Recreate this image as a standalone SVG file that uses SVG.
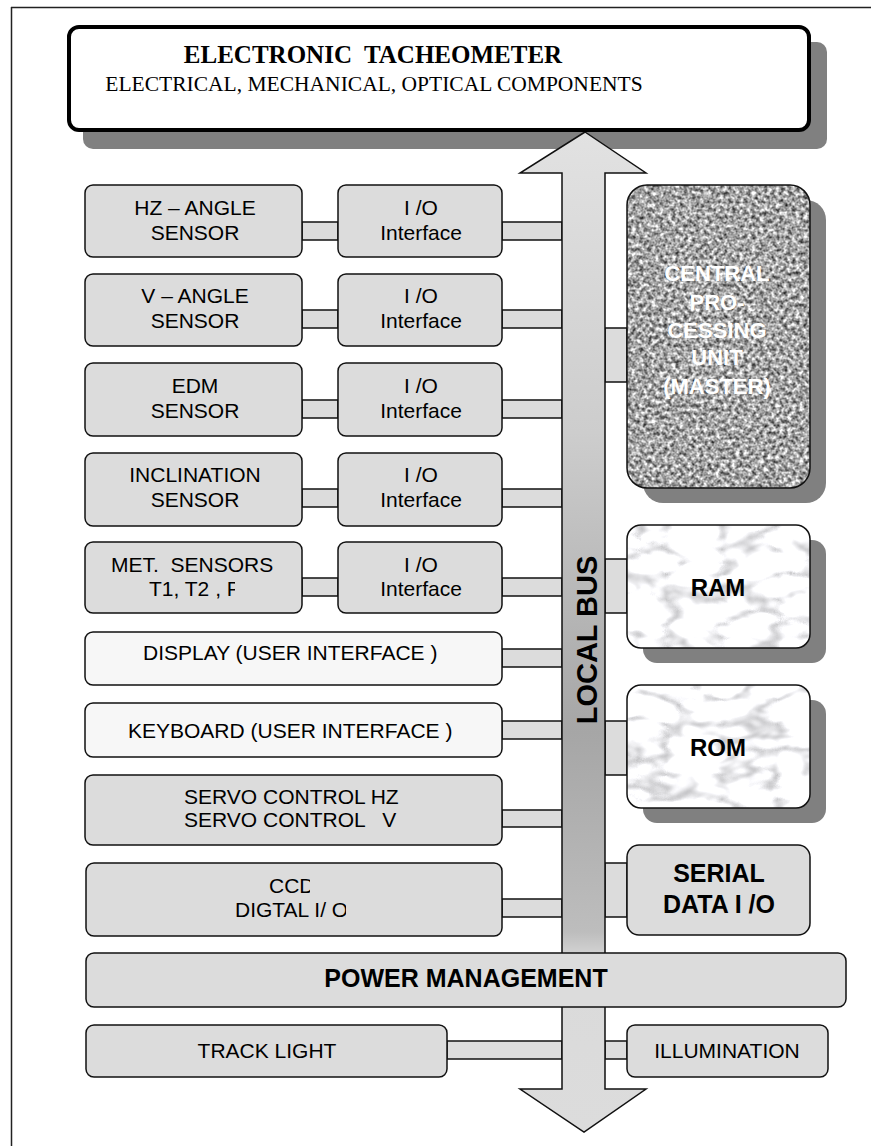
<svg xmlns="http://www.w3.org/2000/svg" width="871" height="1146" viewBox="0 0 871 1146">
<style>
.frame{stroke:#222;stroke-width:1.5;fill:none}
.box{fill:#dcdcdc;stroke:#111;stroke-width:1.5}
.wbox{fill:#f7f7f7;stroke:#111;stroke-width:1.5}
.shadow{fill:#808080}
.conn{fill:#dcdcdc;stroke:#111;stroke-width:1.5}
.t{font-family:"Liberation Sans",Arial,sans-serif;font-size:21px;fill:#000;text-anchor:middle}
.ts{font-family:"Liberation Sans",Arial,sans-serif;font-size:21px;fill:#000;text-anchor:start;white-space:pre}
.tb{font-family:"Liberation Sans",Arial,sans-serif;font-weight:bold;fill:#000;text-anchor:middle;white-space:pre}
.cpu{font-family:"Liberation Sans",Arial,sans-serif;font-weight:bold;font-size:22px;fill:#fff;text-anchor:middle}
.serif{font-family:"Liberation Serif","Times New Roman",serif;fill:#000;text-anchor:middle;white-space:pre}
</style>
<defs>
<linearGradient id="busGrad" gradientUnits="userSpaceOnUse" x1="0" y1="132" x2="0" y2="1132">
<stop offset="0" stop-color="#e2e2e2"/>
<stop offset="0.3" stop-color="#cdcdcd"/>
<stop offset="0.6" stop-color="#a6a6a6"/>
<stop offset="0.8" stop-color="#bdbdbd"/>
<stop offset="0.83" stop-color="#dadada"/>
<stop offset="1" stop-color="#dcdcdc"/>
</linearGradient>
<filter id="granite" x="0" y="0" width="1" height="1" color-interpolation-filters="sRGB">
<feTurbulence type="fractalNoise" baseFrequency="0.25" numOctaves="2" seed="7" result="n"/>
<feColorMatrix in="n" type="matrix" values="1.35 0 0 0 -0.03  1.35 0 0 0 -0.03  1.35 0 0 0 -0.03  0 0 0 0 1" result="g"/>
<feComposite in="g" in2="SourceGraphic" operator="in"/>
</filter>
<filter id="marble" x="0" y="0" width="1" height="1" color-interpolation-filters="sRGB">
<feTurbulence type="turbulence" baseFrequency="0.018 0.04" numOctaves="3" seed="5" result="n"/>
<feGaussianBlur in="n" stdDeviation="1.2" result="b"/>
<feColorMatrix in="b" type="matrix" values="1.0 0 0 0 0.74  1.0 0 0 0 0.74  1.0 0 0 0 0.75  0 0 0 0 1" result="g"/>
<feComposite in="g" in2="SourceGraphic" operator="in"/>
</filter>
<clipPath id="clipMet"><rect x="100" y="570" width="135" height="40"/></clipPath>
<clipPath id="clipCcd"><rect x="250" y="870" width="60" height="30"/></clipPath>
<clipPath id="clipDig"><rect x="220" y="895" width="126" height="30"/></clipPath>
</defs>

<g id="frame">
<line class="frame" x1="11" y1="7.5" x2="871" y2="7.5"/>
<line class="frame" x1="11.5" y1="7" x2="11.5" y2="1146"/>
</g>

<g id="shadows">
<rect class="shadow" x="83" y="42" width="744" height="107" rx="10"/>
<rect class="shadow" x="643" y="200" width="183" height="303" rx="20"/>
<rect class="shadow" x="643" y="540" width="183" height="123" rx="14"/>
<rect class="shadow" x="643" y="700" width="183" height="123" rx="14"/>
</g>

<g id="connectors">
<rect class="conn" x="302" y="222" width="36" height="18"/>
<rect class="conn" x="502" y="222" width="60" height="18"/>
<rect class="conn" x="302" y="310" width="36" height="18"/>
<rect class="conn" x="502" y="310" width="60" height="18"/>
<rect class="conn" x="302" y="400" width="36" height="18"/>
<rect class="conn" x="502" y="400" width="60" height="18"/>
<rect class="conn" x="302" y="489" width="36" height="18"/>
<rect class="conn" x="502" y="489" width="60" height="18"/>
<rect class="conn" x="302" y="578" width="36" height="18"/>
<rect class="conn" x="502" y="578" width="60" height="18"/>
<rect class="conn" x="502" y="649" width="60" height="18"/>
<rect class="conn" x="502" y="721" width="60" height="18"/>
<rect class="conn" x="502" y="810" width="60" height="17"/>
<rect class="conn" x="502" y="899" width="60" height="18"/>
<rect class="conn" x="447" y="1041" width="115" height="18"/>
<rect class="conn" x="605" y="1041" width="22" height="18"/>
<rect class="conn" x="605" y="328" width="22" height="54"/>
<rect class="conn" x="605" y="559" width="22" height="54"/>
<rect class="conn" x="605" y="721" width="22" height="54"/>
<rect class="conn" x="605" y="863" width="22" height="54"/>
</g>

<g id="local-bus">
<polygon points="585,132 646,173 605,173 605,1089 646,1089 584,1132 520,1089 562,1089 562,173 520,173" fill="url(#busGrad)" stroke="#111" stroke-width="1.5" stroke-linejoin="miter"/>
<text class="tb" font-size="29" transform="translate(597,640) rotate(-90)">LOCAL BUS</text>
</g>

<g id="tacheometer">
<rect x="69" y="27" width="740" height="103" rx="10" fill="#fff" stroke="#000" stroke-width="4"/>
<text class="serif" x="373" y="63" font-size="25" font-weight="bold">ELECTRONIC  TACHEOMETER</text>
<text class="serif" x="374" y="91" font-size="21.5">ELECTRICAL, MECHANICAL, OPTICAL COMPONENTS</text>
</g>

<g id="hz-sensor">
<rect class="box" x="85" y="185" width="217" height="72" rx="8"/>
<text class="t" x="195" y="215">HZ – ANGLE</text>
<text class="t" x="195" y="240">SENSOR</text>
</g>
<g id="hz-io">
<rect class="box" x="338" y="185" width="164" height="72" rx="8"/>
<text class="t" x="421" y="215">I /O</text>
<text class="t" x="421" y="240">Interface</text>
</g>

<g id="v-sensor">
<rect class="box" x="85" y="274" width="217" height="72" rx="8"/>
<text class="t" x="195" y="303">V – ANGLE</text>
<text class="t" x="195" y="328">SENSOR</text>
</g>
<g id="v-io">
<rect class="box" x="338" y="274" width="164" height="72" rx="8"/>
<text class="t" x="421" y="303">I /O</text>
<text class="t" x="421" y="328">Interface</text>
</g>

<g id="edm-sensor">
<rect class="box" x="85" y="363" width="217" height="73" rx="8"/>
<text class="t" x="195" y="393">EDM</text>
<text class="t" x="195" y="418">SENSOR</text>
</g>
<g id="edm-io">
<rect class="box" x="338" y="363" width="164" height="73" rx="8"/>
<text class="t" x="421" y="393">I /O</text>
<text class="t" x="421" y="418">Interface</text>
</g>

<g id="inclination-sensor">
<rect class="box" x="85" y="453" width="217" height="73" rx="8"/>
<text class="t" x="195" y="482">INCLINATION</text>
<text class="t" x="195" y="507">SENSOR</text>
</g>
<g id="inclination-io">
<rect class="box" x="338" y="453" width="164" height="73" rx="8"/>
<text class="t" x="421" y="482">I /O</text>
<text class="t" x="421" y="507">Interface</text>
</g>

<g id="met-sensors">
<rect class="box" x="85" y="542" width="217" height="71" rx="8"/>
<text class="ts" x="111" y="572">MET.  SENSORS</text>
<text class="ts" x="149" y="596" clip-path="url(#clipMet)">T1, T2 , P</text>
</g>
<g id="met-io">
<rect class="box" x="338" y="542" width="164" height="71" rx="8"/>
<text class="t" x="421" y="572">I /O</text>
<text class="t" x="421" y="596">Interface</text>
</g>

<g id="display">
<rect class="wbox" x="85" y="632" width="417" height="53" rx="8"/>
<text class="ts" x="143" y="660">DISPLAY (USER INTERFACE )</text>
</g>

<g id="keyboard">
<rect class="wbox" x="85" y="703" width="417" height="54" rx="8"/>
<text class="ts" x="128" y="738">KEYBOARD (USER INTERFACE )</text>
</g>

<g id="servo">
<rect class="box" x="85" y="775" width="417" height="70" rx="8"/>
<text class="ts" x="184" y="804">SERVO CONTROL HZ</text>
<text class="ts" x="184" y="827">SERVO CONTROL   V</text>
</g>

<g id="ccd">
<rect class="box" x="86" y="863" width="416" height="73" rx="8"/>
<text class="ts" x="269" y="893" clip-path="url(#clipCcd)">CCD</text>
<text class="ts" x="235" y="917" clip-path="url(#clipDig)">DIGTAL I/ O</text>
</g>

<g id="cpu">
<rect x="627" y="185" width="183" height="303" rx="20" fill="#999" filter="url(#granite)"/>
<rect x="627" y="185" width="183" height="303" rx="20" fill="none" stroke="#111" stroke-width="1.5"/>
<text class="cpu" x="717" y="281">CENTRAL</text>
<text class="cpu" x="717" y="310">PRO-</text>
<text class="cpu" x="717" y="338">CESSING</text>
<text class="cpu" x="717" y="365">UNIT</text>
<text class="cpu" x="717" y="394">(MASTER)</text>
</g>

<g id="ram">
<rect x="627" y="525" width="183" height="123" rx="14" fill="#eee" filter="url(#marble)"/>
<rect x="627" y="525" width="183" height="123" rx="14" fill="none" stroke="#111" stroke-width="1.5"/>
<text class="tb" x="718" y="596" font-size="24">RAM</text>
</g>

<g id="rom">
<rect x="627" y="685" width="183" height="123" rx="14" fill="#eee" filter="url(#marble)"/>
<rect x="627" y="685" width="183" height="123" rx="14" fill="none" stroke="#111" stroke-width="1.5"/>
<text class="tb" x="718" y="756" font-size="24">ROM</text>
</g>

<g id="serial-io">
<rect class="box" x="627" y="845" width="183" height="90" rx="12"/>
<text class="tb" x="719" y="882" font-size="25">SERIAL</text>
<text class="tb" x="719" y="913" font-size="25">DATA I /O</text>
</g>

<g id="power-management">
<rect class="box" x="86" y="953" width="760" height="54" rx="8"/>
<text class="tb" x="466" y="987" font-size="25">POWER MANAGEMENT</text>
</g>

<g id="track-light">
<rect class="box" x="86" y="1025" width="361" height="52" rx="8"/>
<text class="t" x="267" y="1058">TRACK LIGHT</text>
</g>

<g id="illumination">
<rect class="box" x="627" y="1025" width="201" height="52" rx="8"/>
<text class="t" x="727" y="1058">ILLUMINATION</text>
</g>
</svg>
